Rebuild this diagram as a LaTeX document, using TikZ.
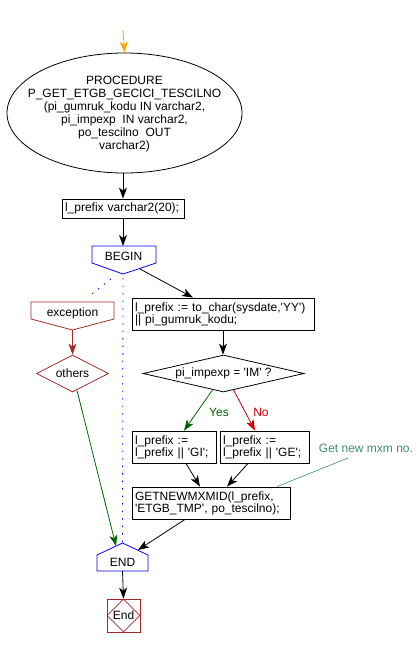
\documentclass[tikz,border=0pt]{standalone}
\usepackage{fontspec}
\setmainfont{Liberation Sans}[Ligatures=TeXOff]
\usetikzlibrary{arrows.meta, shapes.geometric}
\definecolor{flowbrown}{RGB}{165,42,42}
\definecolor{flowgreen}{RGB}{0,100,0}
\definecolor{flowred}{RGB}{204,0,0}
\definecolor{flowteal}{RGB}{60,140,110}
\definecolor{floworange}{RGB}{255,165,0}

\begin{document}
\begin{tikzpicture}[x=1pt,y=-1pt,line width=0.8pt,
    font=\fontsize{12}{12}\selectfont,
    arr/.style={-{Stealth[length=11pt,width=8pt,inset=3pt]}},
    stmt/.style={draw, rectangle, align=left, inner xsep=3pt, inner ysep=0pt, minimum height=32pt},
    dots/.style={blue, dash pattern=on 1.5pt off 6pt}]
    \useasboundingbox (0,0) rectangle (420,646);
    % start
    \coordinate (start) at (123,30);
    \node[draw, ellipse, minimum width=235pt, minimum height=120pt] (proc) at (124.5,113) {};
    \node[align=center, font=\fontsize{12}{13}\selectfont] (proctext) at (124.5,114) {PROCEDURE\\P\_GET\_ETGB\_GECICI\_TESCILNO\\(pi\_gumruk\_kodu IN varchar2,\\pi\_impexp\ \ IN varchar2,\\po\_tescilno\ \ OUT\\varchar2)};
    \node[stmt, minimum height=19pt, text width=116pt] (decl) at (123,208.5) {l\_prefix varchar2(20);};
    % begin
    \draw[blue] (92,246) -- (156,246) -- (156,263) -- (123,274) -- (92,263) -- cycle;
    \node (begin) at (123.5,256) {BEGIN};
    \coordinate (begintop) at (123,246);
    \coordinate (beginright) at (140,269);
    \coordinate (beginleft) at (111,279);
    \coordinate (begintip) at (123,278);
    % exception handler
    \draw[flowbrown] (31,302) -- (114,302) -- (114,319) -- (72.5,330) -- (31,319) -- cycle;
    \node (exception) at (72.5,313) {exception};
    \coordinate (exctop) at (88,297);
    \coordinate (exctip) at (72.5,330);
    \node[draw=flowbrown, diamond, aspect=1.95, minimum width=72pt, minimum height=37pt, inner sep=0pt] (others) at (72.5,373.5) {others};
    % body
    \node[stmt, text width=176pt] (prefix) at (223,314) {l\_prefix := to\_char(sysdate,'YY')\\|| pi\_gumruk\_kodu;};
    \node[draw, diamond, aspect=4.35, minimum width=161pt, minimum height=37pt, inner sep=0pt] (impexp) at (223.5,373.5) {pi\_impexp = 'IM' ?};
    \node[stmt, text width=78pt] (gi) at (174,447) {l\_prefix :=\\l\_prefix || 'GI';};
    \node[stmt, text width=83pt] (ge) at (264.5,447) {l\_prefix :=\\l\_prefix || 'GE';};
    \node[stmt, text width=152pt] (newid) at (211,503) {GETNEWMXMID(l\_prefix,\\'ETGB\_TMP', po\_tescilno);};
    \node[flowgreen] (yes) at (219,412) {Yes};
    \node[flowred] (no) at (261,412) {No};
    \node[flowteal] (note) at (366,448) {Get new mxm no.};
    % end
    \draw[blue] (97,571) -- (97,555) -- (122.5,543) -- (148,555) -- (148,571) -- cycle;
    \node (end) at (122.5,562) {END};
    \coordinate (endtop) at (122.5,543);
    \coordinate (endleft) at (116,546);
    \coordinate (endright) at (138,550);
    \coordinate (endbottom) at (122.5,571);
    \node[draw=flowbrown, minimum size=33pt, inner sep=0pt] (stop) at (123.5,615.5) {};
    \node[draw=flowbrown, diamond, minimum size=33pt, inner sep=0pt] (stoptext) at (stop) {End};
    % connectors
    \draw[arr, floworange] (start) -- (proc.north);
    \draw[arr] (proc.south -| decl.north) -- (decl.north);
    \draw[arr] (decl.south) -- (begintop);
    \draw[arr] (beginright) -- ([xshift=-30pt]prefix.north);
    \draw[arr] (prefix.south) -- (prefix.south |- impexp.north);
    \draw[arr, flowgreen] ([xshift=-11pt,yshift=2.5pt]impexp.south) -- ([xshift=10pt]gi.north);
    \draw[arr, flowred] ([xshift=10pt,yshift=2.5pt]impexp.south) -- ([xshift=-9.5pt]ge.north);
    \draw[arr] ([xshift=12pt]gi.south) -- ([xshift=-11pt]newid.north);
    \draw[arr] ([xshift=-16.5pt]ge.south) -- ([xshift=16pt]newid.north);
    \draw[flowteal, line width=0.6pt] ([xshift=-18pt,yshift=-2pt]note.south) -- ([xshift=66pt]newid.north);
    \draw[arr] ([xshift=-26pt]newid.south) -- (endright);
    \draw[arr] (endbottom) -- (stop.north);
    \draw[arr, flowbrown] (exctip) -- (others.north);
    \draw[arr, flowgreen] ([xshift=4.5pt,yshift=2pt]others.south) -- (endleft);
    \draw[dots] (beginleft) -- (exctop);
    \draw[dots] (begintip) -- (endtop);
\end{tikzpicture}
\end{document}
